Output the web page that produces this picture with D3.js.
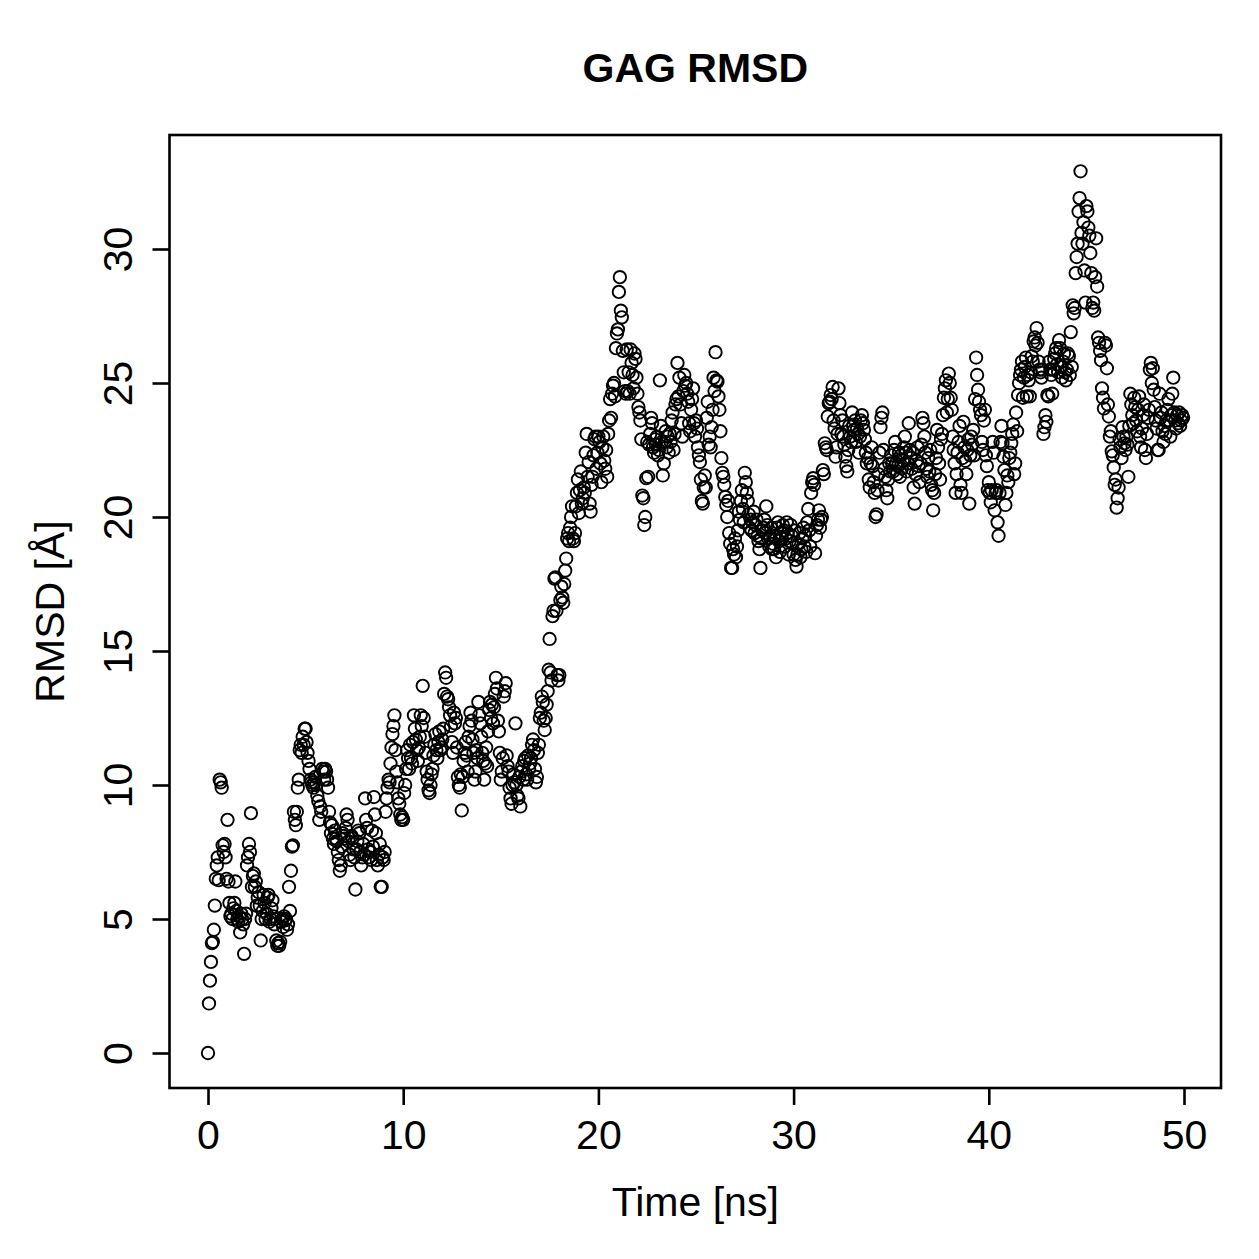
<!DOCTYPE html>
<html lang="en">
<head>
  <meta charset="utf-8" />
  <title>GAG RMSD</title>
  <style>
    body { margin: 0; background: #fff; }
    svg text { font-family: "Liberation Sans", Arial, sans-serif; fill: #000; }
  </style>
  <script src="https://d3js.org/d3.v7.min.js"></script>
</head>
<body>
<script>

// time step between frames (ns)
const dt = 0.05;

// RMSD values (Angstrom), one per frame
const rmsd0to10 = [
  0, 1.85, 2.7, 3.4, 4.1, 4.15, 4.6, 5.5, 6.5, 7.0,
  7.3, 6.45, 10.2, 10.1, 9.9, 7.75, 7.5, 7.8, 7.3, 6.5,
  8.7, 6.4, 5.6, 5.1, 5.2, 5.0, 5.4, 5.6, 6.4, 5.3,
  5.0, 4.9, 5.1, 4.5, 5.2, 5.0, 4.8, 3.7, 5.0, 5.2,
  7.0, 7.3, 7.8, 7.5, 8.95, 6.2, 6.6, 6.7, 6.2, 6.4,
  5.5, 5.8, 6.0, 5.5, 4.2, 5.0, 5.3, 5.9, 5.6, 5.0,
  5.2, 5.8, 5.9, 4.9, 5.0, 5.4, 5.7, 5.1, 4.8, 5.0,
  4.2, 4.0, 4.1, 4.0, 4.15, 4.9, 5.0, 4.7, 5.1, 4.95,
  5.0, 4.6, 4.8, 6.2, 5.3, 6.8, 7.7, 7.75, 9.0, 8.7,
  8.5, 9.0, 9.9, 10.2, 11.3, 11.5, 11.2, 11.8, 11.5, 12.1,
  12.1, 11.6, 11.2, 10.9, 10.6, 10.2, 10.1, 10.0, 9.9, 10.1,
  10.3, 10.0, 9.6, 9.4, 8.7, 9.2, 9.0, 10.6, 10.5, 10.2,
  10.6, 10.5, 10.2, 9.9, 9.0, 8.6, 8.2, 8.5, 8.0, 7.8,
  8.3, 8.0, 7.9, 7.5, 7.2, 6.8, 7.0, 7.7, 8.2, 8.1,
  8.0, 8.4, 8.9, 8.7, 7.9, 7.4, 7.2, 8.1, 8.0, 7.6,
  7.3, 6.1, 7.6, 7.9, 8.3, 8.2, 7.5, 7.0, 7.3, 7.8,
  7.4, 9.5, 8.7, 8.4, 7.6, 7.3, 7.5, 7.2, 8.3, 7.7,
  9.55, 8.9, 8.2, 7.2, 7.0, 7.4, 7.8, 6.2, 6.2, 7.3,
  7.2, 7.5, 9.0, 9.5, 9.9, 10.2, 10.1, 10.8, 11.4, 11.9,
  12.2, 12.6, 11.3, 10.5, 10.1, 9.5, 9.3, 8.9, 8.7, 8.8
];

const rmsd10to20 = [
  8.7, 9.7, 10.0, 10.6, 11.3, 11.0, 10.6, 11.5, 11.0, 10.8,
  11.6, 12.6, 12.1, 11.7, 11.3, 10.9, 11.4, 11.8, 12.6, 12.2,
  13.7, 12.5, 11.8, 11.2, 10.5, 10.2, 9.8, 9.7, 10.0, 10.4,
  10.6, 11.1, 11.5, 11.9, 11.3, 11.0, 11.6, 12.0, 11.3, 11.4,
  11.7, 12.1, 13.4, 14.2, 14.0, 13.3, 13.2, 12.9, 12.6, 12.2,
  11.6, 11.2, 12.7, 12.3, 12.5, 11.4, 10.3, 10.0, 9.9, 10.4,
  9.05, 10.3, 10.9, 11.2, 11.6, 11.1, 10.5, 11.8, 12.2, 12.7,
  12.4, 11.7, 11.2, 10.2, 10.5, 11.3, 11.0, 13.1, 12.6, 12.3,
  11.8, 11.2, 10.9, 10.2, 10.8, 11.4, 10.7, 12.0, 12.8, 13.1,
  12.5, 13.0, 12.3, 12.9, 13.4, 14.0, 13.6, 12.4, 12.0, 11.2,
  10.2, 10.5, 11.0, 13.3, 13.5, 13.8, 11.1, 10.7, 10.5, 9.9,
  9.5, 9.3, 10.0, 10.4, 10.1, 12.3, 10.0, 9.6, 9.5, 10.3,
  9.2, 10.5, 10.7, 10.2, 10.9, 11.0, 10.4, 10.2, 11.1, 10.6,
  10.8, 11.0, 11.5, 11.7, 11.3, 10.6, 10.1, 10.3, 11.2, 11.5,
  12.5, 12.7, 13.3, 13.1, 12.4, 12.05, 12.5, 13.0, 13.5, 14.3,
  15.45, 14.2, 13.9, 16.3, 16.5, 17.7, 17.75, 16.5, 14.1, 13.9,
  14.1, 16.9, 17.4, 17.0, 16.8, 17.5, 18.0, 18.45, 19.2, 19.4,
  19.1, 19.6, 20.0, 20.4, 19.2, 19.1, 19.4, 20.4, 20.9, 21.4,
  20.15, 21.0, 21.7, 20.5, 20.7, 21.1, 20.9, 22.4, 23.1, 21.5,
  22.05, 20.5, 20.2, 21.2, 21.5, 22.3, 22.9, 23.0, 21.8, 22.4
];

const rmsd20to30 = [
  23.0, 22.8, 22.0, 21.3, 22.6, 23.0, 22.1, 21.8, 22.5, 21.5,
  23.1, 23.6, 24.4, 23.7, 24.6, 24.9, 25.0, 24.5, 26.3, 26.85,
  27.0, 28.4, 28.95, 27.7, 27.45, 26.2, 25.4, 24.7, 24.6, 26.25,
  24.7, 25.4, 24.6, 26.25, 25.75, 25.3, 24.8, 26.1, 25.9, 25.2,
  24.6, 24.1, 23.9, 23.6, 22.9, 20.8, 20.7, 19.7, 20.0, 21.45,
  22.8, 21.5, 22.7, 23.1, 23.7, 23.5, 22.6, 22.4, 22.9, 22.7,
  23.0, 22.3, 22.5, 25.1, 23.4, 22.8, 21.55, 22.0, 22.8, 23.2,
  22.6, 23.0, 22.4, 23.1, 22.8, 23.6, 23.9, 22.5, 23.1, 24.2,
  24.4, 25.75, 24.5, 25.2, 24.2, 23.5, 23.0, 24.7, 25.3, 24.9,
  25.0, 24.6, 24.3, 23.5, 23.2, 24.0, 24.4, 24.8, 23.5, 23.0,
  23.6, 23.3, 22.6, 22.3, 22.05, 21.4, 20.6, 20.5, 21.1, 21.55,
  21.1, 23.7, 24.3, 22.7, 23.0, 22.6, 23.35, 24.0, 25.2, 24.7,
  26.15, 25.1, 25.05, 24.5, 24.0, 23.2, 22.2, 21.65, 21.5, 21.2,
  20.75, 20.45, 20.0, 20.6, 19.4, 19.0, 18.1, 18.1, 18.8, 18.6,
  19.2, 18.5, 18.9, 19.5, 20.2, 19.9, 20.6, 21.0, 20.3, 19.8,
  21.65, 21.3, 20.9, 20.6, 20.1, 19.6, 19.9, 19.5, 19.8, 20.2,
  19.4, 19.7, 19.9, 19.3, 19.1, 18.8, 18.1, 19.2, 19.5, 19.6,
  19.9, 19.4, 20.4, 19.7, 19.2, 18.9, 19.3, 19.6, 18.8, 19.0,
  18.8, 19.3, 18.5, 19.6, 19.8, 19.1, 18.7, 19.4, 19.2, 19.7,
  19.5, 18.9, 19.2, 19.8, 19.4, 18.6, 19.1, 19.7, 19.3, 19.0
];

const rmsd30to40 = [
  18.6, 19.5, 18.4, 18.15, 18.6, 19.0, 19.4, 18.5, 18.8, 19.2,
  19.6, 18.9, 19.3, 18.7, 19.8, 20.3, 19.5, 18.9, 20.9, 21.3,
  21.45, 21.2, 18.65, 19.3, 19.7, 19.9, 20.25, 19.6, 19.9, 20.0,
  21.75, 21.6, 22.75, 22.6, 22.5, 23.75, 24.25, 24.3, 24.55, 24.4,
  24.85, 23.6, 23.3, 22.25, 22.6, 23.1, 24.8, 24.25, 23.8, 23.1,
  23.6, 23.0, 22.7, 22.25, 21.9, 21.7, 22.5, 23.4, 23.0, 22.8,
  23.9, 23.4, 23.25, 23.6, 22.8, 23.3, 23.1, 22.4, 23.0, 23.6,
  23.8, 23.5, 23.25, 22.9, 22.4, 22.0, 22.2, 21.4, 21.1, 22.0,
  22.6, 21.9, 21.3, 20.9, 20.0, 20.1, 21.0, 21.6, 22.4, 23.35,
  23.7, 23.9, 22.5, 21.8, 21.5, 21.0, 20.7, 21.4, 22.0, 21.7,
  22.3, 22.0, 21.7, 22.5, 22.8, 22.0, 21.6, 21.9, 22.4, 21.5,
  22.3, 21.8, 22.1, 22.6, 23.0, 22.4, 21.7, 22.0, 23.5, 22.5,
  22.2, 21.8, 22.4, 21.1, 20.5, 21.6, 22.1, 22.6, 21.9, 21.3,
  22.0, 22.7, 23.7, 23.5, 23.0, 22.4, 21.8, 21.5, 22.2, 21.7,
  22.5, 21.2, 21.0, 20.25, 20.9, 21.6, 22.2, 23.25, 22.6, 22.0,
  21.4, 22.9, 23.1, 23.8, 24.45, 24.8, 25.1, 23.9, 24.4, 25.35,
  25.0, 24.45, 24.0, 23.0, 22.5, 22.0, 20.9, 21.6, 22.4, 22.8,
  23.4, 21.2, 20.9, 22.2, 23.55, 22.6, 22.1, 21.6, 22.5, 22.9,
  20.5, 22.3, 23.0, 22.7, 23.25, 22.3, 24.4, 25.95, 25.3, 24.75,
  24.3, 24.0, 23.8, 22.8, 22.5, 23.6, 24.0, 22.3, 21.9, 21.0
];

const rmsd40to50 = [
  21.3, 20.9, 20.55, 21.0, 22.8, 22.4, 20.25, 20.9, 21.0, 19.8,
  19.3, 20.9, 22.8, 23.4, 22.75, 22.25, 21.75, 20.45, 20.9, 21.55,
  21.3, 22.2, 22.4, 22.75, 23.1, 23.45, 21.6, 22.0, 23.9, 23.2,
  24.55, 25.0, 25.3, 25.5, 25.8, 24.45, 25.2, 25.6, 25.95, 24.5,
  25.3, 25.1, 24.5, 25.4, 26.0, 25.8, 26.55, 26.7, 26.4, 27.05,
  26.5, 25.8, 25.5, 25.4, 25.2, 25.5, 23.1, 23.35, 23.8, 23.55,
  24.55, 24.5, 25.8, 25.5, 25.3, 24.6, 25.5, 25.9, 26.1, 26.3,
  25.7, 25.4, 26.6, 26.3, 25.6, 25.2, 25.8, 26.1, 25.4, 25.1,
  25.5, 26.1, 26.0, 25.3, 26.9, 25.6, 27.9, 27.6, 27.8, 29.1,
  29.7, 30.2, 31.4, 31.9, 32.9, 30.6, 30.2, 31.0, 29.2, 28.0,
  31.6, 31.4, 30.8, 30.5, 29.85, 29.1, 27.8, 28.0, 27.7, 28.95,
  30.4, 28.6, 26.7, 26.5, 26.2, 25.85, 24.8, 24.45, 24.05, 26.5,
  26.4, 25.55, 24.2, 23.75, 23.0, 23.2, 22.45, 22.3, 21.85, 21.2,
  21.4, 20.35, 20.7, 21.1, 22.9, 22.6, 22.2, 23.35, 23.0, 22.75,
  22.5, 23.0, 22.7, 21.5, 23.4, 24.6, 24.2, 23.8, 23.5, 24.45,
  24.1, 23.6, 23.2, 24.0, 24.5, 23.0, 22.6, 23.3, 23.8, 24.2,
  22.5, 22.2, 23.1, 23.7, 24.0, 25.5, 25.75, 25.0, 25.55, 24.75,
  24.1, 23.6, 23.3, 22.5, 22.5, 24.6, 23.7, 23.9, 23.2, 22.8,
  23.4, 23.1, 23.6, 24.0, 24.4, 23.6, 23.0, 23.8, 24.6, 25.2,
  23.9, 23.6, 23.3, 23.8, 23.5, 23.9, 23.4, 23.6, 23.8, 23.7
];

// tick labels
const xTicks = [0, 10, 20, 30, 40, 50];
const yTicks = [0, 5, 10, 15, 20, 25, 30];

const rmsd = [].concat(rmsd0to10, rmsd10to20, rmsd20to30, rmsd30to40, rmsd40to50);
const data = rmsd.map((v, i) => ({ t: i * dt, r: v }));

// figure geometry (R style plot box)
const W = 1259, H = 1259;
const box = { left: 169.5, right: 1221, top: 135, bottom: 1088 };
const fontSize = 41;

const svg = d3.select("body").append("svg")
  .attr("width", W)
  .attr("height", H);

const x = d3.scaleLinear().domain([0, 50]).range([208, 1184]);
const y = d3.scaleLinear().domain([0, 30]).range([1053, 249]);

// points
svg.append("g")
  .selectAll("circle")
  .data(data)
  .join("circle")
    .attr("cx", d => x(d.t))
    .attr("cy", d => y(d.r))
    .attr("r", 6.2)
    .attr("fill", "none")
    .attr("stroke", "#000")
    .attr("stroke-width", 1.9);

// x axis
const xAxis = svg.append("g")
  .attr("transform", `translate(0, ${box.bottom})`)
  .call(d3.axisBottom(x).tickValues(xTicks).tickSize(17).tickFormat(d3.format("d")));
xAxis.select(".domain").remove();
xAxis.selectAll("line").attr("stroke", "#000").attr("stroke-width", 2.6);
xAxis.selectAll("text")
  .attr("y", 61)
  .attr("dy", 0)
  .style("font-size", fontSize + "px")
  .style("font-family", '"Liberation Sans", Arial, sans-serif');

// y axis, labels turned parallel to the axis
const yAxis = svg.append("g")
  .attr("transform", `translate(${box.left}, 0)`)
  .call(d3.axisLeft(y).tickValues(yTicks).tickSize(17).tickFormat(d3.format("d")));
yAxis.select(".domain").remove();
yAxis.selectAll("line").attr("stroke", "#000").attr("stroke-width", 2.6);
yAxis.selectAll("text")
  .attr("x", 0)
  .attr("y", -38)
  .attr("dy", 0)
  .attr("transform", "rotate(-90)")
  .attr("text-anchor", "middle")
  .style("font-size", fontSize + "px")
  .style("font-family", '"Liberation Sans", Arial, sans-serif');

// plot frame
svg.append("rect")
  .attr("x", box.left)
  .attr("y", box.top)
  .attr("width", box.right - box.left)
  .attr("height", box.bottom - box.top)
  .attr("fill", "none")
  .attr("stroke", "#000")
  .attr("stroke-width", 2.6);

// title and axis titles
svg.append("text")
  .attr("x", (box.left + box.right) / 2)
  .attr("y", 82)
  .attr("text-anchor", "middle")
  .style("font-size", fontSize + "px")
  .style("font-weight", "bold")
  .text("GAG RMSD");

svg.append("text")
  .attr("x", (box.left + box.right) / 2)
  .attr("y", 1216)
  .attr("text-anchor", "middle")
  .style("font-size", fontSize + "px")
  .text("Time [ns]");

svg.append("text")
  .attr("transform", `translate(64, ${(box.top + box.bottom) / 2}) rotate(-90)`)
  .attr("text-anchor", "middle")
  .style("font-size", fontSize + "px")
  .text("RMSD [Å]");

</script>
</body>
</html>
